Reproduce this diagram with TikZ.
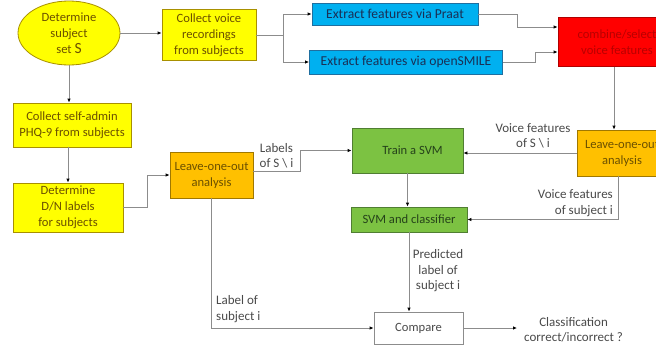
\documentclass[tikz,border=0pt]{standalone}
\usepackage{fontspec}
\setmainfont{Carlito}
\usetikzlibrary{arrows.meta,shapes.geometric}
\definecolor{yel}{HTML}{FFFF00}
\definecolor{yelb}{HTML}{A89000}
\definecolor{yelt}{HTML}{6B5000}
\definecolor{blu}{HTML}{00B0F0}
\definecolor{blub}{HTML}{1F6FA0}
\definecolor{blut}{HTML}{1A2F55}
\definecolor{redf}{HTML}{FF0000}
\definecolor{redb}{HTML}{B00000}
\definecolor{redt}{HTML}{B80000}
\definecolor{grn}{HTML}{7CC242}
\definecolor{grnb}{HTML}{507E32}
\definecolor{grnt}{HTML}{25421A}
\definecolor{org}{HTML}{FFC000}
\definecolor{orgb}{HTML}{A07800}
\definecolor{lbl}{HTML}{4A4A4A}
\definecolor{ln}{HTML}{8C8C8C}
\tikzset{
  bx/.style={draw, rectangle, inner sep=0pt, align=center, line width=0.8pt,
    font=\fontsize{12.6}{16}\selectfont},
  ybox/.style={bx, fill=yel, draw=yelb, text=yelt},
  bbox/.style={bx, fill=blu, draw=blub, text=blut, font=\fontsize{13.6}{16}\selectfont},
  rbox/.style={bx, fill=redf, draw=redb, text=redt},
  gbox/.style={bx, fill=grn, draw=grnb, text=grnt},
  obox/.style={bx, fill=org, draw=orgb, text=yelt},
  wbox/.style={bx, fill=white, draw=ln, text=lbl},
  lab/.style={text=lbl, align=center, inner sep=1pt, font=\fontsize{13}{15.5}\selectfont},
  arr/.style={draw=ln, line width=0.8pt, -{Latex[length=4pt,width=3.5pt,color=black]}},
}
\begin{document}
\begin{tikzpicture}[x=1pt,y=-1pt]
\useasboundingbox (0,0) rectangle (656,348);
\clip (0,0) rectangle (656,348);
\fill[white] (0,0) rectangle (656,348);
% nodes
\node[ellipse, draw=yelb, fill=yel, text=yelt, line width=0.8pt, minimum width=102, minimum height=64, inner sep=0pt, align=center, font=\fontsize{12.6}{16}\selectfont] (ell) at (69,33) {Determine\\subject\\set {\fontsize{15.5}{16}\selectfont S}};
\node[ybox, minimum width=94, minimum height=51] (voice) at (209,35) {Collect voice\\recordings\\from subjects};
\node[bbox, minimum width=166, minimum height=22] (praat) at (395,14) {Extract features via Praat};
\node[bbox, minimum width=193, minimum height=24] (smile) at (406,62) {Extract features via openSMILE};
\node[rbox, minimum width=118, minimum height=49] (comb) at (617,42) {combine/select\\voice features};
\node[obox, minimum width=90, minimum height=46] (rorg) at (622,153) {Leave-one-out\\analysis};
\node[gbox, minimum width=111, minimum height=45] (train) at (407.5,150.5) {\hspace*{10pt}Train a SVM};
\node[gbox, minimum width=116, minimum height=25] (svmc) at (409,219.5) {SVM and classifier};
\node[wbox, minimum width=89, minimum height=32] (cmp) at (418.5,328) {Compare};
\node[lab, anchor=west, inner sep=0pt] (res) at (524,330) {Classification\\correct/incorrect ?};
\node[ybox, minimum width=118, minimum height=44] (sa) at (72,125) {Collect self-admin\\PHQ-9 from subjects};
\node[ybox, minimum width=110, minimum height=49] (dn) at (68,207.5) {Determine\\D/N labels\\for subjects};
\node[obox, minimum width=83, minimum height=46] (lorg) at (211.5,175) {Leave-one-out\\analysis};
% labels
\node[lab] (l1) at (276.5,156) {Labels\\of S \textbackslash\ i};
\node[lab] (l2) at (533,136) {Voice features\\of S \textbackslash\ i};
\node[lab, align=right, anchor=east] (l3) at (614,203) {Voice features\\of subject i};
\node[lab] (l4) at (438,271) {Predicted\\label of\\subject i};
\node[lab, align=left, anchor=west] (l5) at (215,309) {Label of\\subject i};
% connectors
\draw[arr] (ell.east) -- (ell.east -| voice.west);
\draw[arr] (ell.south) -- (ell.south |- sa.north);
\draw[arr] (voice.east) -- ++(27,0) |- (praat.west);
\draw[arr] (voice.east) -- ++(27,0) |- (smile.west);
\draw[arr] (praat.east) -- ++(39,0) |- ([yshift=15pt]comb.west);
\draw[arr] (smile.east) -- ++(32,0) |- ([yshift=-10pt]comb.west);
\draw[arr] ([xshift=-3pt]comb.south) -- ([xshift=-3pt]comb.south |- rorg.north);
\draw[arr] (rorg.west) -- (rorg.west -| train.east);
\draw[arr] ([xshift=-4pt]rorg.south) |- (svmc.east);
\draw[arr] (train.south) -- (train.south |- svmc.north);
\draw[arr] (svmc.south) -- (svmc.south |- cmp.north);
\draw[arr, shorten >=7pt] (cmp.east) -- (cmp.east -| res.west);
\draw[arr] (dn.north |- sa.south) -- (dn.north);
\draw[arr] (dn.east) -- ++(24,0) |- (lorg.west);
\draw[arr] ([yshift=4pt]lorg.east) -- ++(47,0) |- (train.west);
\draw[arr] (lorg.south) |- (cmp.west);
\end{tikzpicture}
\end{document}
